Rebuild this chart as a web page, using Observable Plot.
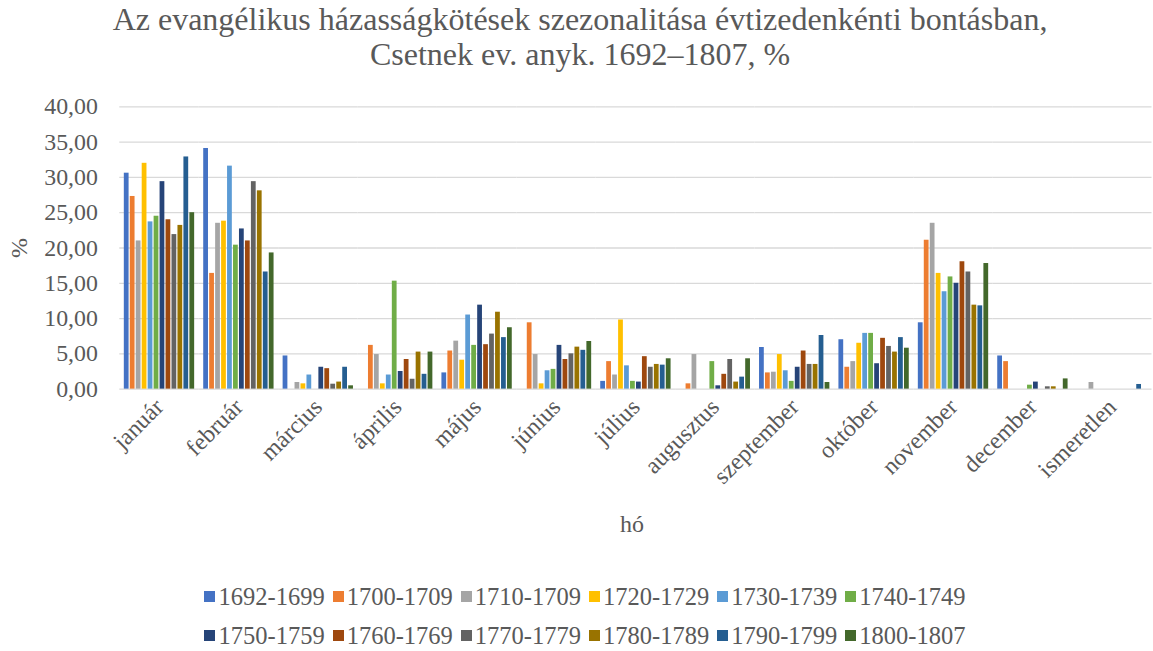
<!DOCTYPE html>
<html>
<head>
<meta charset="utf-8">
<script src="https://cdn.jsdelivr.net/npm/d3@7"></script>
<script src="https://cdn.jsdelivr.net/npm/@observablehq/plot@0.6"></script>
<style>
  html, body { margin: 0; padding: 0; background: #ffffff; overflow: hidden; }
  body { width: 1153px; height: 651px; position: relative; font-family: "Liberation Serif", "Times New Roman", serif; color: #595959; }
  #title { position: absolute; left: 0; top: 2px; width: 1160px; text-align: center; font-size: 32px; line-height: 35px; }
  #chart { position: absolute; left: 0; top: 0; }
  #xlabel { position: absolute; left: 632px; top: 511px; transform: translateX(-50%); font-size: 24px; }
  #ylabel { position: absolute; left: 19px; top: 248px; transform: translate(-50%, -50%) rotate(-90deg); font-size: 24px; }
  #legend { position: absolute; left: 0; top: 577px; width: 1170px; font-size: 24.5px; line-height: 39px; }
  .row { display: flex; justify-content: center; }
  .item { display: flex; align-items: center; margin: 0 4px; }
  .sw { width: 11px; height: 11px; margin-right: 3px; }
</style>
</head>
<body>
<div id="title">Az evangélikus házasságkötések szezonalitása évtizedenkénti bontásban,<br>Csetnek ev. anyk. 1692–1807, %</div>
<div id="chart"></div>
<div id="xlabel">hó</div>
<div id="ylabel">%</div>
<div id="legend"></div>
<script>
const months = ["január","február","március","április","május","június","július","augusztus","szeptember","október","november","december","ismeretlen"];
const series = ["1692-1699","1700-1709","1710-1709","1720-1729","1730-1739","1740-1749","1750-1759","1760-1769","1770-1779","1780-1789","1790-1799","1800-1807"];
const colors = ["#4472C4","#ED7D31","#A5A5A5","#FFC000","#5B9BD5","#70AD47","#264478","#9E480E","#636363","#997300","#255E91","#43682B"];
const yTicks = [0, 5, 10, 15, 20, 25, 30, 35, 40];

const s1692 = [30.6, 34.1, 4.7, 0, 2.3, 0, 1.1, 0, 5.9, 7.0, 9.4, 4.7, 0];
const s1700 = [27.3, 16.4, 0, 6.2, 5.4, 9.4, 3.9, 0.75, 2.3, 3.1, 21.1, 3.9, 0];
const s1710 = [21.0, 23.5, 0.94, 4.9, 6.8, 4.9, 2.0, 4.9, 2.4, 3.9, 23.5, 0, 0.94];
const s1720 = [32.0, 23.8, 0.75, 0.75, 4.1, 0.75, 9.8, 0, 4.9, 6.5, 16.4, 0, 0];
const s1730 = [23.7, 31.6, 2.0, 2.0, 10.5, 2.6, 3.3, 0, 2.6, 7.9, 13.8, 0, 0];
const s1740 = [24.5, 20.4, 0, 15.3, 6.2, 2.8, 1.1, 3.9, 1.1, 7.9, 15.9, 0.56, 0];
const s1750 = [29.4, 22.7, 3.1, 2.5, 11.9, 6.2, 1.0, 0.47, 3.1, 3.6, 15.0, 1.0, 0];
const s1760 = [24.0, 21.0, 2.9, 4.2, 6.3, 4.2, 4.6, 2.1, 5.4, 7.2, 18.05, 0, 0];
const s1770 = [21.9, 29.4, 0.7, 1.4, 7.8, 5.0, 3.1, 4.2, 3.5, 6.05, 16.6, 0.33, 0];
const s1780 = [23.2, 28.1, 1.0, 5.25, 10.9, 5.95, 3.5, 1.0, 3.5, 5.25, 11.9, 0.33, 0];
const s1790 = [32.9, 16.6, 3.1, 2.1, 7.3, 5.5, 3.4, 1.7, 7.6, 7.3, 11.8, 0, 0.66];
const s1800 = [25.0, 19.3, 0.47, 5.25, 8.7, 6.75, 4.3, 4.3, 0.94, 5.8, 17.8, 1.45, 0];

const values = [s1692, s1700, s1710, s1720, s1730, s1740, s1750, s1760, s1770, s1780, s1790, s1800];

const data = [];
months.forEach((m, i) => series.forEach((s, j) => data.push({month: m, series: s, value: values[j][i]})));

const fmt = d => d.toFixed(2).replace(".", ",");

const chart = Plot.plot({
  width: 1160,
  height: 651,
  marginTop: 107,
  marginBottom: 260,
  marginLeft: 120,
  marginRight: 1.5,
  style: {fontFamily: "'Liberation Serif', 'Times New Roman', serif", fontSize: "24px", color: "#595959", background: "transparent", overflow: "visible"},
  fx: {domain: months, padding: 0, round: false, label: null},
  x: {domain: series, axis: null, paddingInner: 0.2, paddingOuter: 0.76, round: false},
  y: {domain: [0, 40], label: null},
  color: {domain: series, range: colors},
  marks: [
    Plot.gridY(yTicks, {stroke: "#d9d9d9", strokeOpacity: 1, strokeWidth: 1.3}),
    Plot.barY(data.filter(d => d.value > 0), {fx: "month", x: "series", y: "value", fill: "series"}),
    Plot.axisY(yTicks, {tickFormat: fmt, tickSize: 0, tickPadding: 22, label: null, fontSize: 24}),
    Plot.axisFx({anchor: "bottom", tickRotate: -45, tickSize: 0, tickPadding: 14, label: null, fontSize: 24})
  ]
});
document.getElementById("chart").appendChild(chart);

const legend = document.getElementById("legend");
[series.slice(0, 6), series.slice(6)].forEach((rowSeries, r) => {
  const row = document.createElement("div");
  row.className = "row";
  rowSeries.forEach((s, k) => {
    const item = document.createElement("div");
    item.className = "item";
    const sw = document.createElement("div");
    sw.className = "sw";
    sw.style.background = colors[r * 6 + k];
    const t = document.createElement("span");
    t.textContent = s;
    item.appendChild(sw);
    item.appendChild(t);
    row.appendChild(item);
  });
  legend.appendChild(row);
});
</script>
</body>
</html>
